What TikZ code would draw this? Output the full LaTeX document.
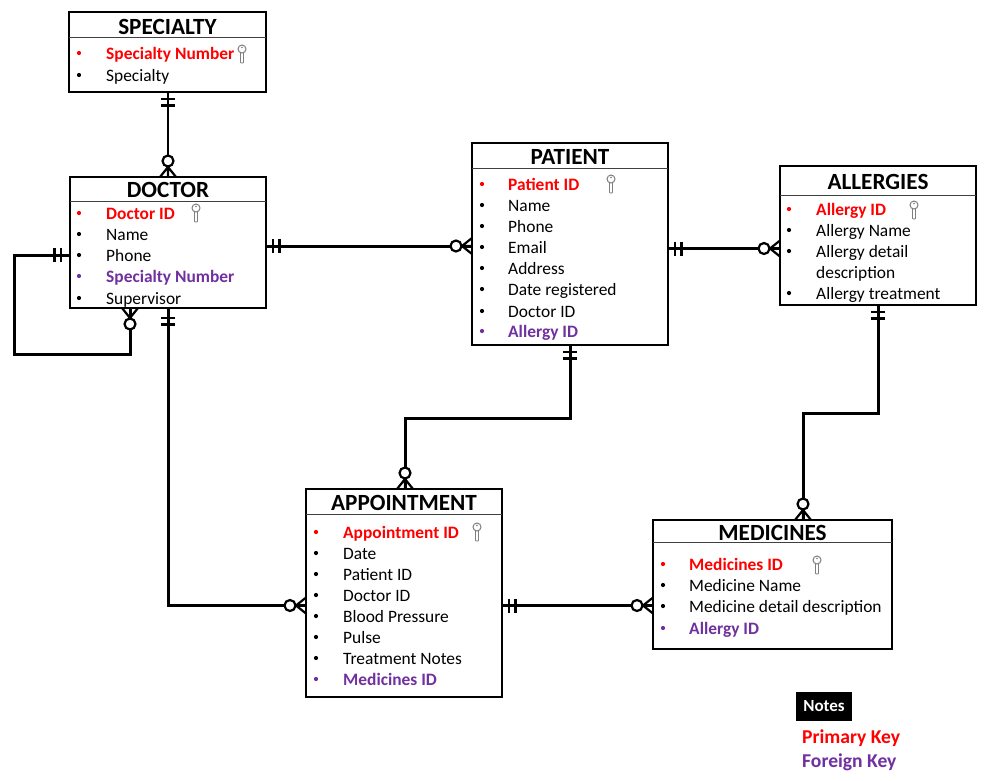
\documentclass[tikz,border=0pt]{standalone}
\usepackage{fontspec}
\setmainfont{Carlito}
\definecolor{pkred}{HTML}{FF0000}
\definecolor{fkpurple}{HTML}{7030A0}
\definecolor{keygrey}{HTML}{7F7F7F}
\tikzset{
  entity/.style={draw=black,line width=1.7pt,fill=white,inner sep=0pt,outer sep=0pt,minimum width=#1},
  head/.style={font=\fontsize{23.2}{23.2}\selectfont\bfseries,anchor=base,inner sep=0pt},
  attrtext/.style={font=\fontsize{17.4}{17.4}\selectfont,anchor=base west,inner sep=0pt},
  link/.style={draw=black,line width=3pt,line join=miter},
  fine/.style={draw=black,line width=2.2pt},
  crowfoot/.pic={
    \draw[fine] (10,0) -- (0,-8) (10,0) -- (0,8) (10,0) -- (0,0);
    \draw[fine,fill=white] (16,0) circle (5.5);
  },
  crowtwo/.pic={
    \draw[fine] (10,0) -- (0,-8) (10,0) -- (0,8);
    \draw[fine,fill=white] (16,0) circle (5.5);
  },
  bars/.pic={
    \draw[fine] (7,-7) -- (7,7) (13.5,-7) -- (13.5,7);
  },
  keyicon/.pic={
    \draw[keygrey,line width=0.9pt,fill=white,rounded corners=0.8pt]
      (-1.5,-2) -- (-1.5,9) -- (1.5,9) -- (1.5,-2) -- cycle;
    \draw[keygrey,line width=1pt,fill=white] (0,-5) circle (4);
    \fill[keygrey] (0,-6.6) circle (0.9);
  }
}
\newcommand{\attrline}[6]{% name, bullet x, text x, y, colour, text
  \fill[#5] (#2,#4) circle (2.1);
  \node[attrtext,text=#5] (#1) at (#3,#4+6.2) {#6};
}
\begin{document}
\begin{tikzpicture}[x=1pt,y=-1pt]
\useasboundingbox (0,0) rectangle (991,780);
\fill[white] (0,0) rectangle (991,780);

% entity boxes
\node[entity={197pt},minimum height=80pt] (specialty) at (167.5,52) {};
\node[entity={196pt},minimum height=131pt] (doctor) at (168,242.5) {};
\node[entity={196pt},minimum height=202pt] (patient) at (570,244) {};
\node[entity={196pt},minimum height=139pt] (allergies) at (878,235.5) {};
\node[entity={196pt},minimum height=208pt] (appointment) at (404,593) {};
\node[entity={239pt},minimum height=129pt] (medicines) at (772.5,584.5) {};

% connectors
\draw[link,line width=2.2pt] (specialty.south -| 168,0) -- (doctor.north -| 168,0);
\draw[link] (doctor.east |- 0,246) -- (patient.west |- 0,246);
\draw[link] (patient.east |- 0,248.5) -- (allergies.west |- 0,248.5);
\draw[link] (patient.south -| 570,0) -- (570,418) -- (405,418) -- (appointment.north -| 405,0);
\draw[link] (allergies.south) -- (878,413) -- (803,413) -- (medicines.north -| 803,0);
\draw[link] (doctor.south) -- (168,605.5) -- (appointment.west |- 0,605.5);
\draw[link] (appointment.east |- 0,605.5) -- (medicines.west |- 0,605.5);
\draw[link] (doctor.west |- 0,255) -- (14,255) -- (14,354) -- (130,354) -- (doctor.south -| 130,0);

% connector ends
\pic[rotate=-90] at (168,92) {bars};
\pic[rotate=90] at (168,177) {crowfoot};
\pic at (266,246) {bars};
\pic[rotate=180] at (472,246) {crowfoot};
\pic at (668,248.5) {bars};
\pic[rotate=180] at (780,248.5) {crowfoot};
\pic[rotate=-90] at (570,345) {bars};
\pic[rotate=90] at (405,489) {crowfoot};
\pic[rotate=-90] at (878,305) {bars};
\pic[rotate=90] at (803,520) {crowfoot};
\pic[rotate=-90] at (168,311) {bars};
\pic[rotate=180] at (306,605.5) {crowfoot};
\pic at (502,605.5) {bars};
\pic[rotate=180] at (653,605.5) {crowfoot};
\pic[rotate=180] at (68,255) {bars};
\pic[rotate=-90] at (130,308) {crowtwo};

% header rules
\draw[line width=1pt,draw=black!75] (specialty.west |- 0,37) -- (specialty.east |- 0,37);
\draw[line width=1pt,draw=black!75] (doctor.west |- 0,201) -- (doctor.east |- 0,201);
\draw[line width=1pt,draw=black!75] (patient.west |- 0,168) -- (patient.east |- 0,168);
\draw[line width=1pt,draw=black!75] (allergies.west |- 0,195) -- (allergies.east |- 0,195);
\draw[line width=1pt,draw=black!75] (appointment.west |- 0,514) -- (appointment.east |- 0,514);
\draw[line width=1pt,draw=black!75] (medicines.west |- 0,542) -- (medicines.east |- 0,542);

% titles
\node[head] (specialty-title) at (167.5,34) {SPECIALTY};
\node[head] (doctor-title) at (168,197) {DOCTOR};
\node[head] (patient-title) at (570,164) {PATIENT};
\node[head] (allergies-title) at (878,189) {ALLERGIES};
\node[head] (appointment-title) at (404,510) {APPOINTMENT};
\node[head] (medicines-title) at (772.5,540) {MEDICINES};

% SPECIALTY
\attrline{s1}{79}{106}{53}{pkred}{\bfseries Specialty Number}
\attrline{s2}{79}{106}{75}{black}{Specialty}
% DOCTOR
\attrline{d1}{79}{106}{213}{pkred}{\bfseries Doctor ID}
\attrline{d2}{79}{106}{234}{black}{Name}
\attrline{d3}{79}{106}{255}{black}{Phone}
\attrline{d4}{79}{106}{276}{fkpurple}{\bfseries Specialty Number}
\attrline{d5}{79}{106}{298}{black}{Supervisor}
% PATIENT
\attrline{p1}{482}{508}{184}{pkred}{\bfseries Patient ID}
\attrline{p2}{482}{508}{205}{black}{Name}
\attrline{p3}{482}{508}{226}{black}{Phone}
\attrline{p4}{482}{508}{247}{black}{Email}
\attrline{p5}{482}{508}{268}{black}{Address}
\attrline{p6}{482}{508}{289}{black}{Date registered}
\attrline{p7}{482}{508}{311}{black}{Doctor ID}
\attrline{p8}{482}{508}{331}{fkpurple}{\bfseries Allergy ID}
% ALLERGIES
\attrline{a1}{789}{816}{209}{pkred}{\bfseries Allergy ID}
\attrline{a2}{789}{816}{230}{black}{Allergy Name}
\attrline{a3}{789}{816}{251}{black}{Allergy detail}
\node[attrtext] (a3b) at (816,278.2) {description};
\attrline{a4}{789}{816}{293}{black}{Allergy treatment}
% APPOINTMENT
\attrline{t1}{316}{343}{532}{pkred}{\bfseries Appointment ID}
\attrline{t2}{316}{343}{553}{black}{Date}
\attrline{t3}{316}{343}{574}{black}{Patient ID}
\attrline{t4}{316}{343}{595}{black}{Doctor ID}
\attrline{t5}{316}{343}{616}{black}{Blood Pressure}
\attrline{t6}{316}{343}{637}{black}{Pulse}
\attrline{t7}{316}{343}{658}{black}{Treatment Notes}
\attrline{t8}{316}{343}{679}{fkpurple}{\bfseries Medicines ID}
% MEDICINES
\attrline{m1}{663}{689}{564}{pkred}{\bfseries Medicines ID}
\attrline{m2}{663}{689}{585}{black}{Medicine Name}
\attrline{m3}{663}{689}{606}{black}{Medicine detail description}
\attrline{m4}{663}{689}{628}{fkpurple}{\bfseries Allergy ID}

% keys
\pic at (242,54) {keyicon};
\pic at (196,213) {keyicon};
\pic at (611,184) {keyicon};
\pic at (914,210) {keyicon};
\pic at (477,532) {keyicon};
\pic at (817,565) {keyicon};

% notes
\node[fill=black,text=white,font=\fontsize{17}{17}\selectfont\bfseries,minimum width=56pt,minimum height=29pt,inner sep=0pt] (notes) at (824,706.5) {\raisebox{-1pt}{Notes}};
\node[anchor=base west,inner sep=0pt,text=pkred,font=\fontsize{19.6}{19.6}\selectfont\bfseries] (primary) at (802,743.5) {Primary Key};
\node[anchor=base west,inner sep=0pt,text=fkpurple,font=\fontsize{19.6}{19.6}\selectfont\bfseries] (foreign) at (802,767.5) {Foreign Key};
\end{tikzpicture}
\end{document}
